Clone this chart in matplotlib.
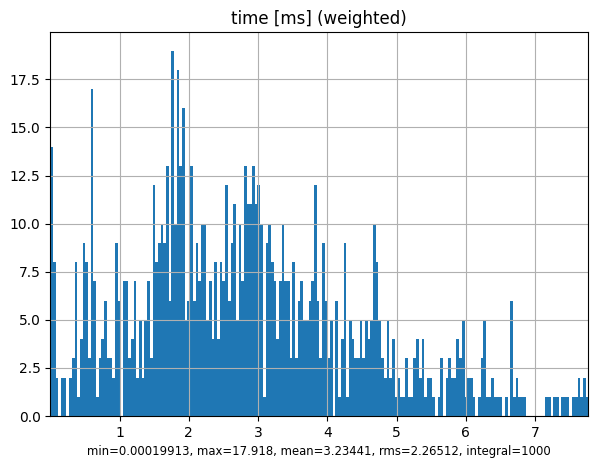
import numpy as np
import matplotlib
matplotlib.use("Agg")
import matplotlib.pyplot as plt

# weighted histogram, 200 bins, heights
x_min = 0.00019913
x_max = 7.77
n_bins = 200
bin_heights = [
    14, 8, 2, 0, 2, 2, 0, 2, 3, 8,
    1, 4, 9, 8, 3, 17, 7, 1, 3, 4,
    6, 3, 3, 2, 9, 6, 0, 7, 7, 3,
    4, 7, 2, 5, 2, 5, 7, 3, 12, 8,
    9, 10, 9, 13, 6, 19, 10, 18, 13, 16,
    5, 6, 13, 6, 9, 7, 10, 10, 5, 7,
    4, 8, 4, 8, 7, 12, 6, 9, 11, 5,
    10, 7, 13, 11, 11, 13, 11, 12, 10, 1,
    9, 10, 8, 7, 4, 7, 10, 7, 7, 3,
    8, 3, 6, 7, 5, 5, 6, 7, 12, 6,
    3, 9, 6, 3, 5, 0, 6, 1, 4, 9,
    1, 5, 4, 3, 3, 5, 3, 5, 4, 5,
    10, 8, 5, 3, 2, 5, 2, 4, 1, 2,
    1, 1, 3, 1, 1, 3, 4, 2, 4, 1,
    2, 2, 1, 0, 1, 3, 0, 2, 3, 2,
    2, 4, 3, 5, 1, 2, 2, 1, 0, 1,
    3, 5, 1, 1, 2, 1, 1, 1, 0, 1,
    0, 6, 1, 2, 1, 1, 1, 0, 0, 0,
    0, 0, 0, 0, 1, 1, 0, 1, 1, 0,
    1, 1, 1, 0, 1, 1, 2, 1, 2, 1,
]
title_text = "time [ms] (weighted)"
stats_text = "min=0.00019913, max=17.918, mean=3.23441, rms=2.26512, integral=1000"

edges = np.linspace(x_min, x_max, n_bins + 1)
centers = 0.5 * (edges[:-1] + edges[1:])

fig, ax = plt.subplots(figsize=(5.98, 4.68), dpi=100)
fig.subplots_adjust(left=0.0841, right=0.9838, bottom=0.1111, top=0.931)

ax.hist(centers, bins=edges, weights=bin_heights)
ax.set_xlim(x_min, x_max)
ax.set_title(title_text)
ax.set_xlabel(stats_text, fontsize=8.4)
ax.grid(True)

fig.savefig("out.png")
